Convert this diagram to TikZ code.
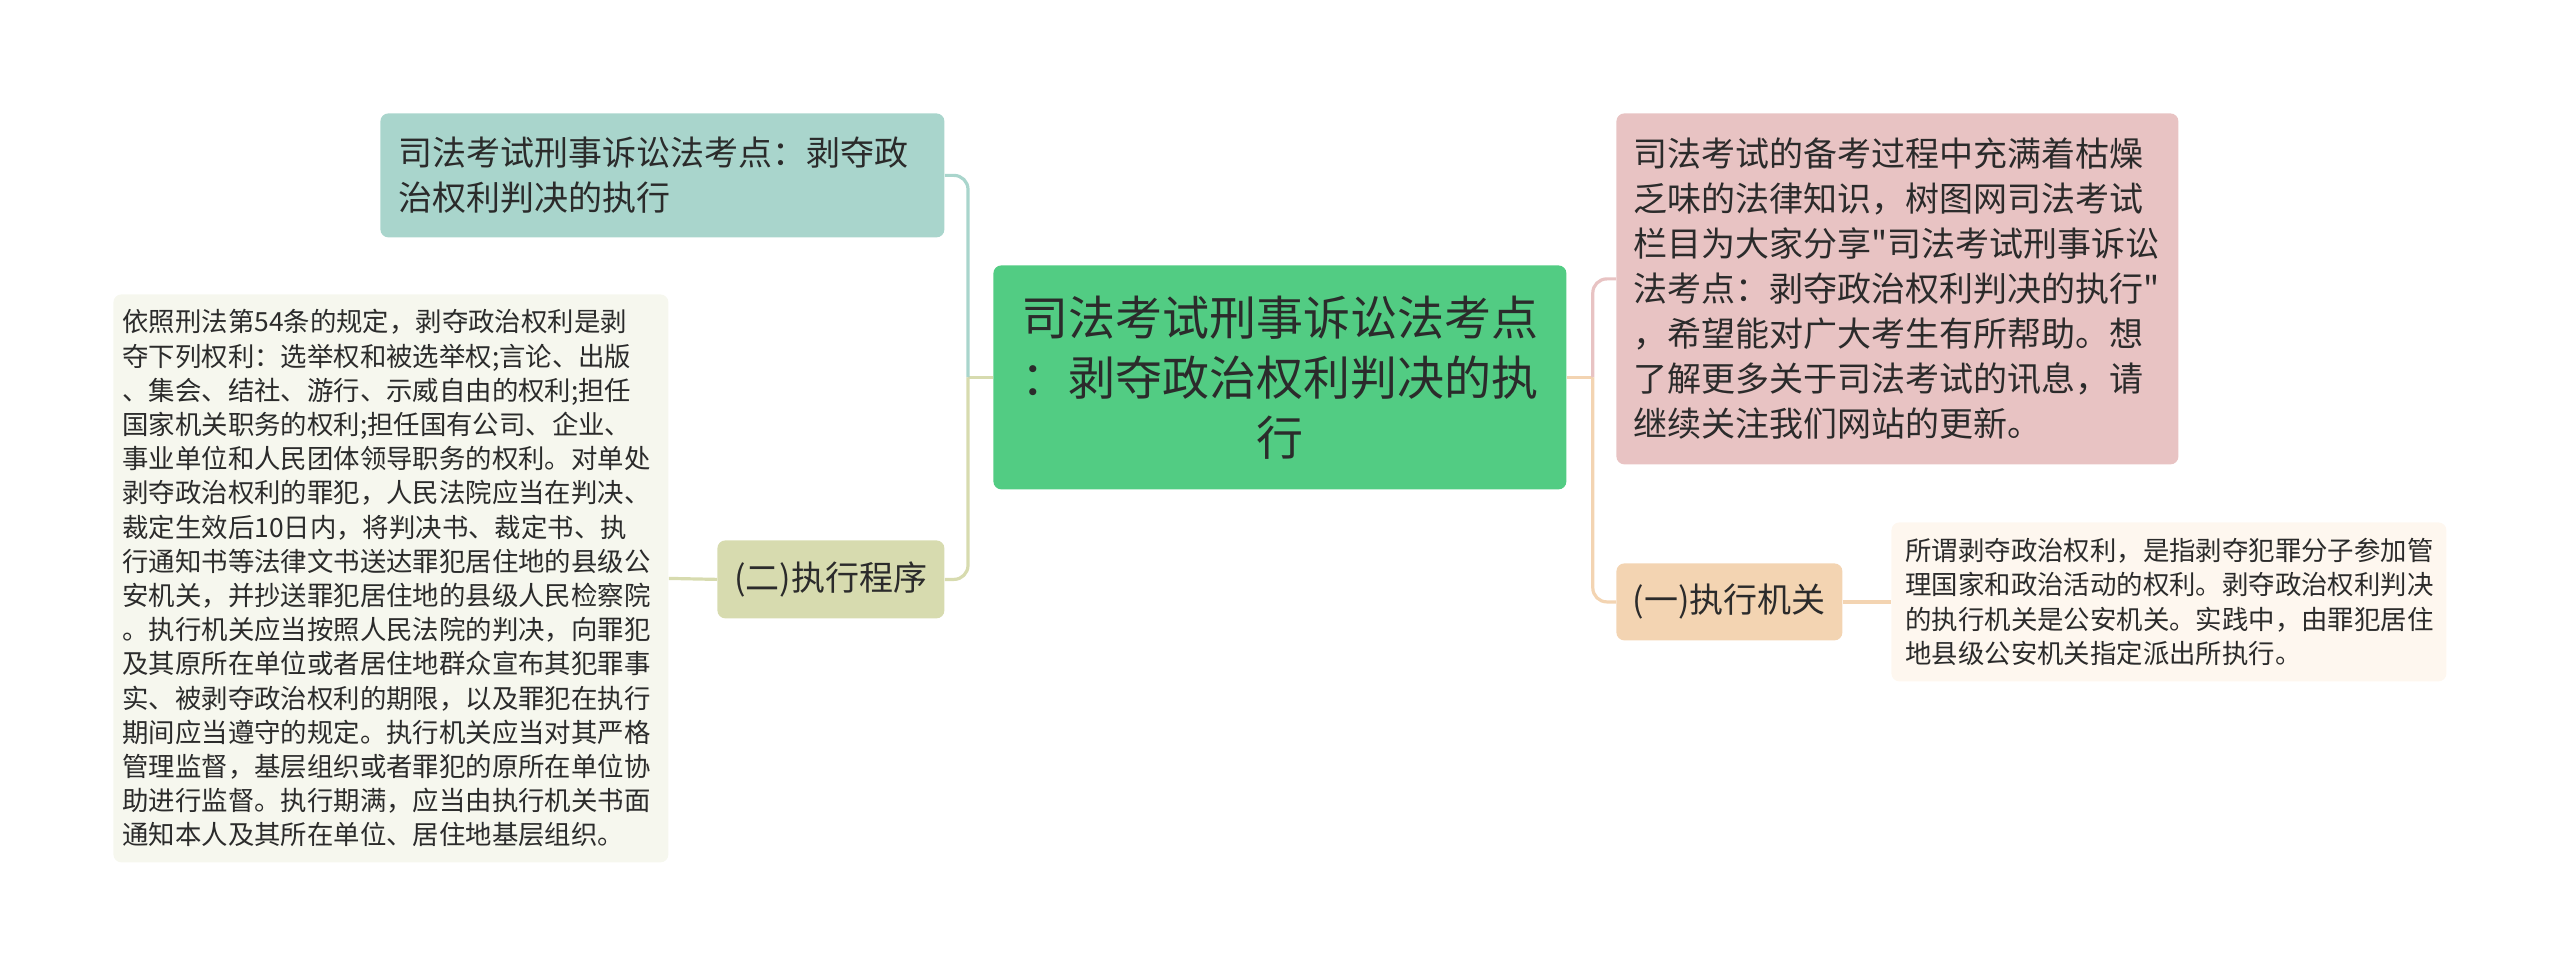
\documentclass[tikz,border=0pt]{standalone}
\usepackage{fontspec}
\setmainfont{Noto Sans CJK SC}
\newfontfamily\qfont{Noto Sans CJK SC}
\newcommand{\sq}{{\qfont"}}
\definecolor{txt}{HTML}{2B2B2B}
\definecolor{cmain}{HTML}{52CC83}
\definecolor{ctl}{HTML}{A9D5CC}
\definecolor{clt}{HTML}{F6F7EE}
\definecolor{cer}{HTML}{D7DBAF}
\definecolor{cpk}{HTML}{E8C3C3}
\definecolor{cyi}{HTML}{F3D4B2}
\definecolor{crt}{HTML}{FEF7EF}
\begin{document}
\begin{tikzpicture}[x=0.5pt,y=-0.5pt,
  box/.style={rounded corners=4pt, text=txt, anchor=north west, inner ysep=0pt},
  bigf/.style={font=\fontsize{23.5pt}{30pt}\selectfont},
  midf/.style={font=\fontsize{17pt}{22.5pt}\selectfont},
  smlf/.style={font=\fontsize{13.2pt}{17.1pt}\selectfont},
  conn/.style={line width=1.6pt},
  rc/.style={rounded corners=7pt}]
\useasboundingbox (0,0) rectangle (2560,978);
\node[box, bigf, fill=cmain, minimum width=286.5pt, minimum height=112pt, inner xsep=10pt, text width=266.5pt, align=center] (center) at (993,265) {司法考试刑事诉讼法考点\\：剥夺政治权利判决的执\\行};
\node[box, midf, fill=ctl, minimum width=282pt, minimum height=62pt, inner xsep=9pt, text width=264pt, align=left] (tl) at (380,113) {司法考试刑事诉讼法考点：剥夺政\\治权利判决的执行};
\node[box, smlf, fill=clt, minimum width=277.5pt, minimum height=284pt, inner xsep=4.5pt, text width=268.5pt, align=left] (lt) at (113,294) {依照刑法第54条的规定，剥夺政治权利是剥\\夺下列权利：选举权和被选举权;言论、出版\\、集会、结社、游行、示威自由的权利;担任\\国家机关职务的权利;担任国有公司、企业、\\事业单位和人民团体领导职务的权利。对单处\\剥夺政治权利的罪犯，人民法院应当在判决、\\裁定生效后10日内，将判决书、裁定书、执\\行通知书等法律文书送达罪犯居住地的县级公\\安机关，并抄送罪犯居住地的县级人民检察院\\。执行机关应当按照人民法院的判决，向罪犯\\及其原所在单位或者居住地群众宣布其犯罪事\\实、被剥夺政治权利的期限，以及罪犯在执行\\期间应当遵守的规定。执行机关应当对其严格\\管理监督，基层组织或者罪犯的原所在单位协\\助进行监督。执行期满，应当由执行机关书面\\通知本人及其所在单位、居住地基层组织。};
\node[box, midf, fill=cer, minimum width=113.5pt, minimum height=39pt, inner xsep=4pt, align=center] (er) at (717,540) {(二)执行程序};
\node[box, midf, fill=cpk, minimum width=281pt, minimum height=175.5pt, inner xsep=8.5pt, text width=264pt, align=left] (pink) at (1616,113) {司法考试的备考过程中充满着枯燥\\乏味的法律知识，树图网司法考试\\栏目为大家分享\sq 司法考试刑事诉讼\\法考点：剥夺政治权利判决的执行\sq\\，希望能对广大考生有所帮助。想\\了解更多关于司法考试的讯息，请\\继续关注我们网站的更新。};
\node[box, midf, fill=cyi, minimum width=113pt, minimum height=38.5pt, inner xsep=4pt, align=center] (yi) at (1616,563) {(一)执行机关};
\node[box, smlf, fill=crt, minimum width=277.5pt, minimum height=79.5pt, inner xsep=7pt, text width=263.5pt, align=left] (rt) at (1891,522) {所谓剥夺政治权利，是指剥夺犯罪分子参加管\\理国家和政治活动的权利。剥夺政治权利判决\\的执行机关是公安机关。实践中，由罪犯居住\\地县级公安机关指定派出所执行。};
\draw[conn, cer] (center.west) -- ++(-25,0) coordinate (jL);
\draw[conn, ctl, rc] (jL) |- (tl.east);
\draw[conn, cer, rc] (jL) |- (er.east);
\draw[conn, cer] (er.west) -- (lt.east);
\draw[conn, cyi] (center.east) -- ++(26,0) coordinate (jR);
\draw[conn, cpk, rc] (jR) |- ([yshift=5pt]pink.west);
\draw[conn, cyi, rc] (jR) |- (yi.west);
\draw[conn, cyi] (yi.east) -- (rt.west);
\end{tikzpicture}
\end{document}
